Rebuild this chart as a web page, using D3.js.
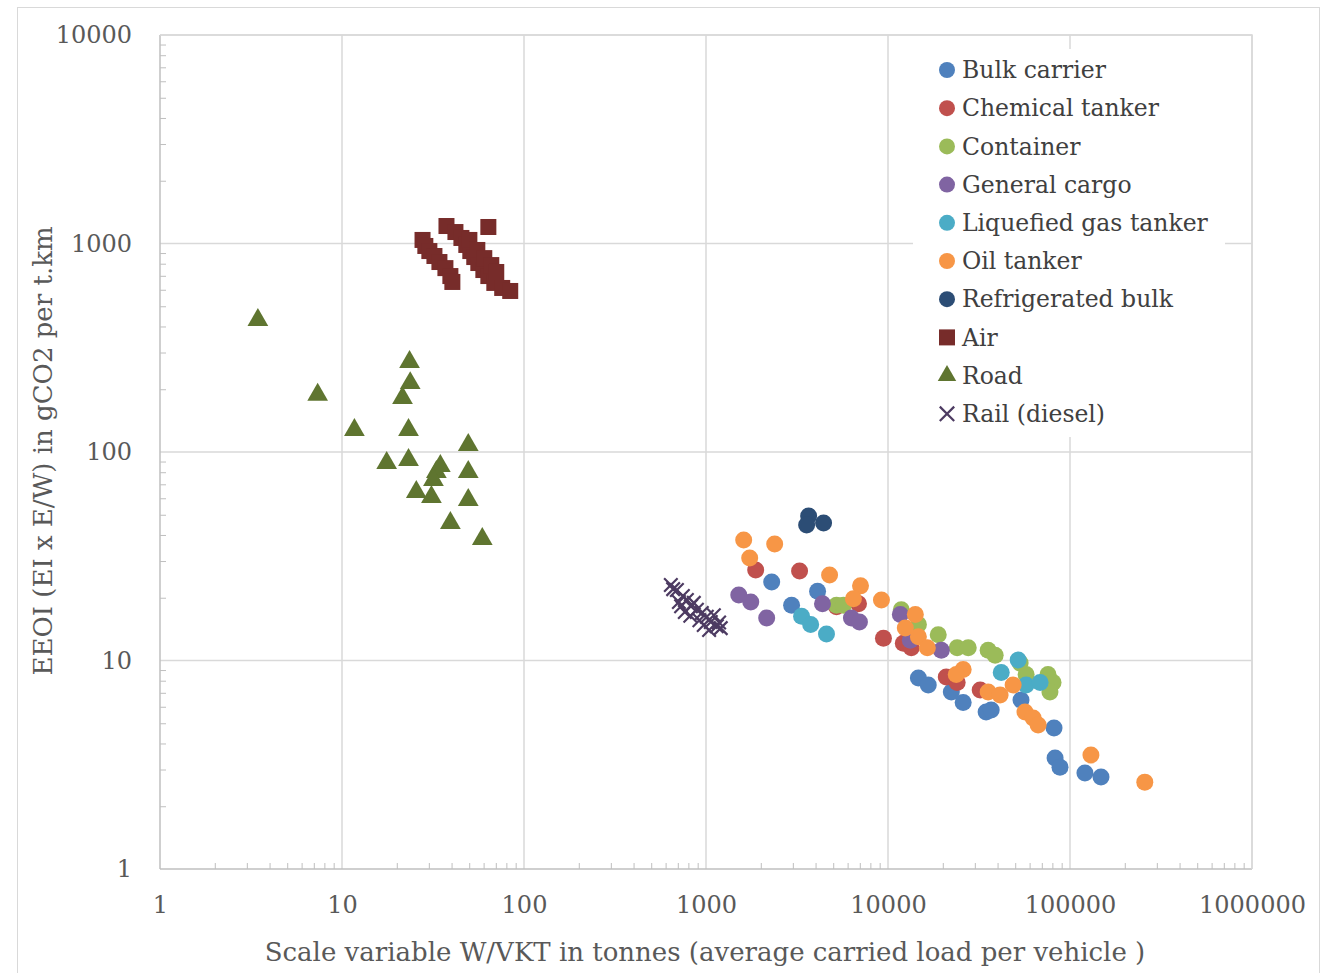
<!DOCTYPE html>
<html>
<head>
<meta charset="utf-8">
<script src="https://cdn.jsdelivr.net/npm/d3@7"></script>
<style>
    body { margin: 0; background: #fff; }
    svg text { font-family: "DejaVu Serif", serif; }
    .grid line { stroke: #d9d9d9; stroke-width: 1.5; }
    .axis path, .axis line { stroke: #bfbfbf; }
    .axis text { fill: #595959; font-size: 24px; }
    .title { fill: #595959; font-size: 26px; }
    .legend text { fill: #404040; font-size: 23.5px; }
</style>
</head>
<body>
<div id="chart"></div>
<script>
// values: [W/VKT tonnes, EEOI gCO2 per t.km]
const bulkCarrier = [[2296, 23.8], [2953, 18.4], [4102, 21.5], [14690, 8.24], [16640, 7.63], [22280, 7.06],
    [25880, 6.29], [34600, 5.66], [36900, 5.79], [53800, 6.47], [81700, 4.75], [82800, 3.41], [88100, 3.08],
    [120800, 2.89], [148000, 2.76]];
const chemicalTanker = [[1875, 27.2], [3267, 26.9], [5212, 18.1], [6886, 18.7], [9440, 12.8], [12140, 12.1],
    [13430, 11.5], [20900, 8.33], [23990, 7.84], [32100, 7.22]];
const container = [[5212, 18.4], [5689, 18.4], [11830, 17.5], [14690, 14.9], [18880, 13.3], [23990, 11.5],
    [27600, 11.5], [35500, 11.2], [38800, 10.6], [53200, 9.73], [57400, 8.57], [75700, 8.57], [80700, 7.84],
    [77600, 7.06]];
const generalCargo = [[1514, 20.6], [1762, 19.1], [2155, 16.0], [4365, 18.7], [6295, 16.0], [6966, 15.3],
    [11690, 16.6], [13270, 12.5], [19630, 11.2]];
const liquefiedGas = [[3350, 16.3], [3758, 14.9], [4592, 13.4], [51900, 10.05], [41900, 8.76], [57400, 7.63],
    [68500, 7.84]];
const oilTanker = [[1611, 37.8], [2384, 36.2], [1738, 31.0], [4775, 25.7], [7063, 22.8], [6457, 19.8],
    [9204, 19.5], [14130, 16.6], [12450, 14.3], [14690, 13.0], [16450, 11.5], [25880, 9.05], [23710, 8.57],
    [35500, 7.06], [41300, 6.83], [48700, 7.63], [56600, 5.66], [62700, 5.30], [66800, 4.91], [130300, 3.52],
    [257600, 2.61]];
const refrigeratedBulk = [[3664, 49.3], [3573, 44.7], [4426, 45.6]];
const air = [[27.7, 1040], [28.7, 973], [30.2, 920], [32.2, 871], [34.3, 815], [37.0, 762], [39.4, 698],
    [40.4, 654], [37.5, 1213], [42.0, 1135], [45.3, 1063], [48.2, 984], [50.7, 920], [53.3, 861], [56.1, 806],
    [59.8, 746], [63.7, 698], [68.7, 647], [75.9, 612], [84.0, 592], [63.7, 1200], [50.1, 1040], [55.4, 931],
    [60.5, 851], [66.1, 788], [70.4, 730]];
const road = [[3.45, 430], [7.35, 188], [11.7, 127.5], [17.6, 88.6], [23.5, 270], [23.7, 214], [21.5, 181.5],
    [23.2, 127.5], [23.2, 91.5], [25.6, 64.3], [31.0, 60.8], [33.0, 80.2], [34.7, 85.7], [31.8, 73.4],
    [49.4, 108], [49.4, 80.2], [49.4, 58.9], [39.4, 45.7], [59.0, 38.3]];
const railDiesel = [[641, 23.0], [660, 22.0], [692, 21.8], [746, 20.4], [785, 19.5], [826, 18.2], [891, 17.5],
    [948, 16.9], [1010, 16.2], [1062, 15.3], [1146, 14.6], [1205, 14.3], [710, 19.1], [765, 17.1], [857, 18.9],
    [972, 14.8], [1104, 16.5], [730, 18.2], [820, 16.4], [920, 15.6], [1040, 14.0], [1180, 15.2]];

const seriesNames = ["Bulk carrier", "Chemical tanker", "Container", "General cargo", "Liquefied gas tanker",
    "Oil tanker", "Refrigerated bulk", "Air", "Road", "Rail (diesel)"];
const seriesData = [bulkCarrier, chemicalTanker, container, generalCargo, liquefiedGas, oilTanker,
    refrigeratedBulk, air, road, railDiesel];
const seriesColors = ["#4f81bd", "#c0504d", "#9bbb59", "#8064a2", "#4bacc6", "#f79646", "#2c4d75",
    "#772c2a", "#5f7530", "#4d3b62"];
const seriesShapes = ["circle", "circle", "circle", "circle", "circle", "circle", "circle", "square",
    "triangle", "cross"];

const xTicks = [1, 10, 100, 1000, 10000, 100000, 1000000];
const yTicks = [1, 10, 100, 1000, 10000];
const xTitle = "Scale variable W/VKT in tonnes (average carried load per vehicle )";
const yTitle = "EEOI (EI x E/W) in gCO2 per t.km";

(function () {
    const width = 1332, height = 973;
    const left = 160, right = 1252, top = 35, bottom = 869;

    const svg = d3.select("#chart").append("svg")
        .attr("width", width)
        .attr("height", height);

    // outer frame of the chart object
    svg.append("rect")
        .attr("x", 17.5).attr("y", 7.5)
        .attr("width", 1302).attr("height", 980)
        .attr("fill", "#fff")
        .attr("stroke", "#d9d9d9");

    const x = d3.scaleLog().domain([1, 1e6]).range([left, right]);
    const y = d3.scaleLog().domain([1, 1e4]).range([bottom, top]);

    const minor = function (ticks) {
        const out = [];
        ticks.slice(0, -1).forEach(function (t) {
            for (let k = 2; k <= 9; k++) out.push(t * k);
        });
        return out;
    };

    const grid = svg.append("g").attr("class", "grid");
    grid.selectAll("line.v").data(xTicks.slice(1)).enter().append("line")
        .attr("x1", d => x(d)).attr("x2", d => x(d))
        .attr("y1", top).attr("y2", bottom);
    grid.selectAll("line.h").data(yTicks.slice(1)).enter().append("line")
        .attr("y1", d => y(d)).attr("y2", d => y(d))
        .attr("x1", left).attr("x2", right);

    // minor ticks, drawn inward
    svg.append("g").attr("class", "axis")
        .attr("transform", "translate(0," + bottom + ")")
        .call(d3.axisBottom(x).tickValues(minor(xTicks)).tickSize(-6).tickFormat(""))
        .select(".domain").remove();
    svg.append("g").attr("class", "axis")
        .attr("transform", "translate(" + left + ",0)")
        .call(d3.axisLeft(y).tickValues(minor(yTicks)).tickSize(-6).tickFormat(""))
        .select(".domain").remove();

    const xAxis = svg.append("g").attr("class", "axis")
        .attr("transform", "translate(0," + bottom + ")")
        .call(d3.axisBottom(x).tickValues(xTicks).tickSize(0).tickPadding(27).tickFormat(d3.format("d")));
    xAxis.select(".domain").attr("d", "M" + left + ",0H" + right).attr("stroke-width", 1.5);

    const yAxis = svg.append("g").attr("class", "axis")
        .attr("transform", "translate(" + left + ",0)")
        .call(d3.axisLeft(y).tickValues(yTicks).tickSize(0).tickPadding(28).tickFormat(d3.format("d")));
    yAxis.select(".domain").attr("d", "M0," + top + "V" + bottom).attr("stroke-width", 1.5);

    // plot frame top / right
    svg.append("path")
        .attr("d", "M" + left + "," + top + "H" + right + "V" + bottom)
        .attr("fill", "none").attr("stroke", "#d9d9d9").attr("stroke-width", 1.5);

    svg.append("text").attr("class", "title")
        .attr("x", (left + right) / 2 - 1).attr("y", 961)
        .attr("text-anchor", "middle")
        .text(xTitle);
    svg.append("text").attr("class", "title")
        .attr("transform", "translate(52," + ((top + bottom) / 2 - 1) + ") rotate(-90)")
        .attr("text-anchor", "middle")
        .text(yTitle);

    function drawMark(sel, shape, color, size) {
        if (shape === "circle") {
            sel.append("circle").attr("r", size).attr("fill", color);
        } else if (shape === "square") {
            sel.append("rect").attr("x", -size).attr("y", -size)
                .attr("width", size * 2).attr("height", size * 2).attr("fill", color);
        } else if (shape === "triangle") {
            sel.append("path").attr("d", d3.symbol(d3.symbolTriangle, size * size * 2.3)()).attr("fill", color);
        } else {
            const s = size * 0.9;
            sel.append("path").attr("d", "M" + -s + "," + -s + "L" + s + "," + s + "M" + -s + "," + s + "L" + s + "," + -s)
                .attr("stroke", color).attr("stroke-width", 2.2).attr("fill", "none");
        }
    }

    const sizes = {circle: 8.5, square: 8, triangle: 9, cross: 7.5};

    seriesData.forEach(function (data, i) {
        const g = svg.append("g");
        g.selectAll("g").data(data).enter().append("g")
            .attr("transform", d => "translate(" + x(d[0]) + "," + y(d[1]) + ")")
            .each(function () {
                drawMark(d3.select(this), seriesShapes[i], seriesColors[i], sizes[seriesShapes[i]]);
            });
    });

    // legend
    const legend = svg.append("g").attr("class", "legend");
    legend.append("rect")
        .attr("x", 913).attr("y", 49).attr("width", 312).attr("height", 388)
        .attr("fill", "#fff");
    const rows = legend.selectAll("g.row").data(seriesNames).enter().append("g")
        .attr("class", "row")
        .attr("transform", (d, i) => "translate(947," + (70 + i * 38.2) + ")");
    rows.each(function (d, i) {
        drawMark(d3.select(this), seriesShapes[i], seriesColors[i], 8);
    });
    rows.append("text")
        .attr("x", 15).attr("dy", "0.35em")
        .text(d => d);
})();
</script>
</body>
</html>
